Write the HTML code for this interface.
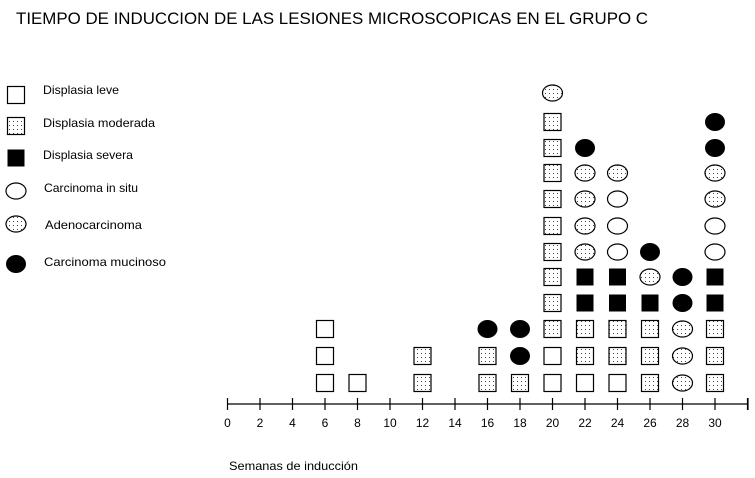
<!DOCTYPE html>
<html><head><meta charset="utf-8"><style>
html,body{margin:0;padding:0;background:#fff;}
svg{display:block;font-family:"Liberation Sans",Arial,sans-serif;}
</style></head><body>
<svg id="s" width="755" height="478" viewBox="0 0 755 478" xmlns="http://www.w3.org/2000/svg">
<defs>
<pattern id="dots" width="4" height="4" patternUnits="userSpaceOnUse">
<rect width="4" height="4" fill="#fff"/><rect x="1" y="1" width="1" height="1" fill="#444"/>
</pattern>
</defs>
<text x="16" y="24" font-size="17" textLength="632" lengthAdjust="spacingAndGlyphs">TIEMPO DE INDUCCION DE LAS LESIONES MICROSCOPICAS EN EL GRUPO C</text>
<g font-size="12">
<text x="43" y="94" textLength="76" lengthAdjust="spacingAndGlyphs">Displasia leve</text>
<text x="43" y="127" textLength="112" lengthAdjust="spacingAndGlyphs">Displasia moderada</text>
<text x="43" y="159" textLength="90" lengthAdjust="spacingAndGlyphs">Displasia severa</text>
<text x="44" y="192" textLength="94" lengthAdjust="spacingAndGlyphs">Carcinoma in situ</text>
<text x="45" y="229" textLength="97" lengthAdjust="spacingAndGlyphs">Adenocarcinoma</text>
<text x="44" y="266" textLength="122" lengthAdjust="spacingAndGlyphs">Carcinoma mucinoso</text>
<text x="229" y="470" textLength="129" lengthAdjust="spacingAndGlyphs">Semanas de inducción</text>
</g>
<line x1="227.5" y1="404" x2="748" y2="404" stroke="#000" stroke-width="1.2"/>
<g id="g"></g>
</svg>
<script>
var g=document.getElementById('g'),h='';
function X(w){return 227.5+16.25*w;}
function sh(t,cx,cy){
 if(t=='o')h+='<rect x="'+(cx-8.5)+'" y="'+(cy-8.5)+'" width="17" height="17" fill="#fff" stroke="#000" stroke-width="1.2"/>';
 if(t=='m')h+='<rect x="'+(cx-8.5)+'" y="'+(cy-8.5)+'" width="17" height="17" fill="url(#dots)" stroke="#000" stroke-width="1.2"/>';
 if(t=='s')h+='<rect x="'+(cx-8.5)+'" y="'+(cy-8.5)+'" width="17" height="17" fill="#000"/>';
 if(t=='i')h+='<ellipse cx="'+cx+'" cy="'+cy+'" rx="10" ry="8" fill="#fff" stroke="#000" stroke-width="1.2"/>';
 if(t=='a')h+='<ellipse cx="'+cx+'" cy="'+cy+'" rx="10" ry="8" fill="url(#dots)" stroke="#000" stroke-width="1.2"/>';
 if(t=='c')h+='<ellipse cx="'+cx+'" cy="'+cy+'" rx="10" ry="9" fill="#000"/>';
}
var rows=[383,356,329,303,277,252,226,199,173,148,122,93];
var cols={6:'ooo',8:'o',12:'mm',16:'mmc',18:'mcc',20:'oommmmmmmmma',22:'ommssaaaac',24:'ommssiiia',26:'mmmsac',28:'aaacc',30:'mmmssiiaacc'};
for(var w in cols){var s=cols[w];for(var k=0;k<s.length;k++)sh(s[k],X(+w),rows[k]);}
for(var w=0;w<=32;w+=2){var x=X(w);h+='<line x1="'+x+'" y1="398" x2="'+x+'" y2="410" stroke="#000" stroke-width="1.2"/>';
 if(w<=30)h+='<text x="'+x+'" y="427" font-size="12" text-anchor="middle">'+w+'</text>';}
h+='<line x1="748" y1="398" x2="748" y2="410" stroke="#000" stroke-width="1.2"/>';
sh('o',16,95);sh('m',16,126);sh('s',16,158);sh('i',16,191);sh('a',16,224);sh('c',16,264);
g.innerHTML=h;
</script>
</body></html>
